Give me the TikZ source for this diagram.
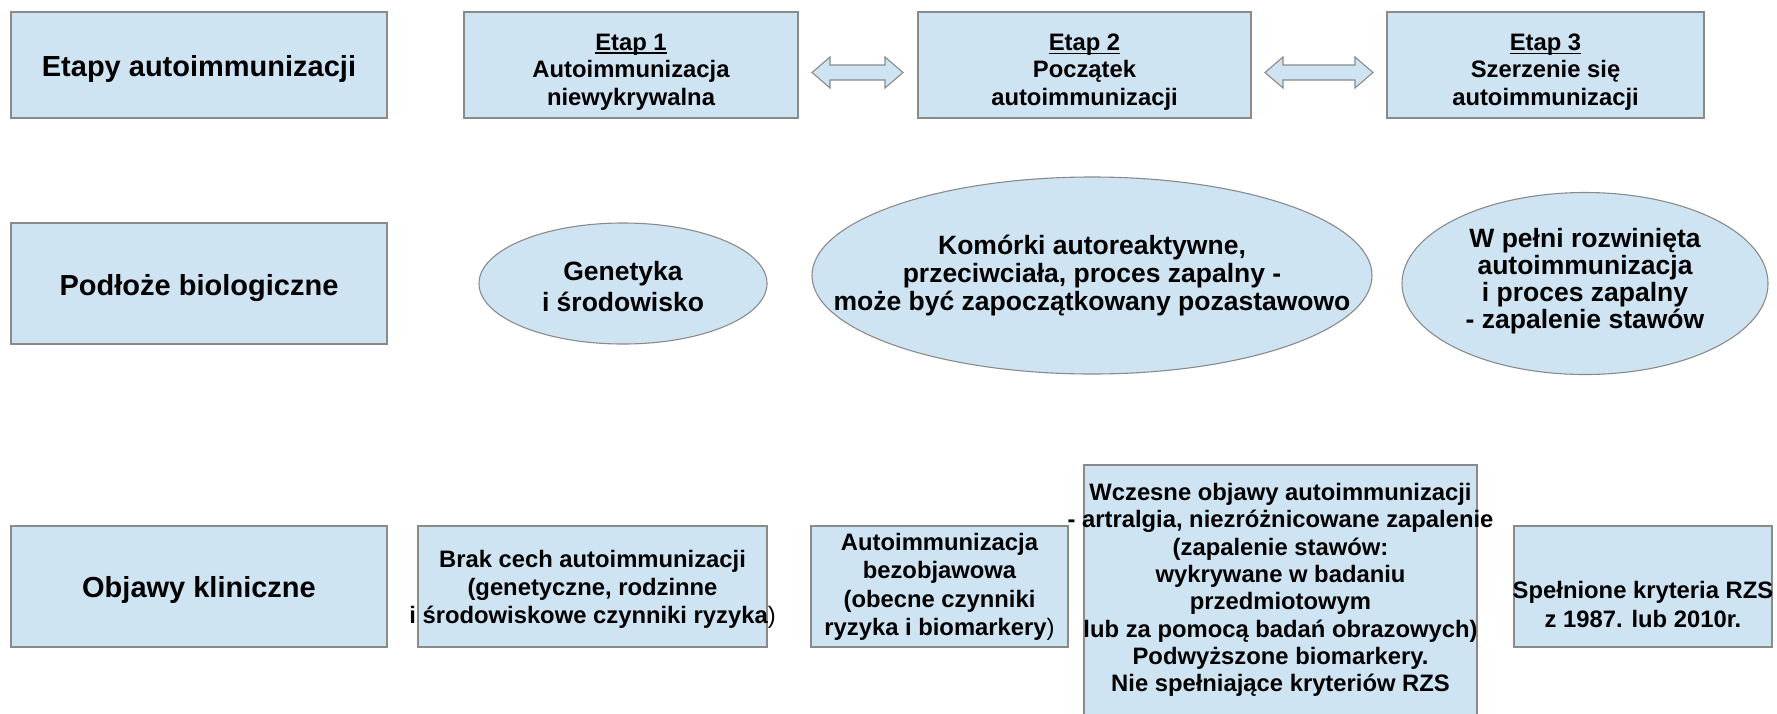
\documentclass[tikz,border=0pt]{standalone}
\usepackage{fontspec}
\setmainfont{Liberation Sans}
\usetikzlibrary{calc,shapes.geometric}
\definecolor{boxfill}{HTML}{CFE4F3}
\definecolor{boxline}{HTML}{8A8A8A}
\newcommand\fsz[2]{\fontsize{#1}{#2}\selectfont}
\newcommand\ulin[1]{\setbox0\hbox{#1}\rlap{\rule[-3.6pt]{\wd0}{1.4pt}}\box0}
\begin{document}
\begin{tikzpicture}[x=1pt,y=-1pt,
  box/.style={draw=boxline, fill=boxfill, line width=1.1pt, rectangle, inner sep=0pt, outer sep=0pt},
  oval/.style={draw=boxline, fill=boxfill, line width=1.1pt, ellipse, inner sep=0pt, outer sep=0pt},
  txt/.style={align=center, inner sep=0pt, font=\bfseries\fsz{23.8}{#1}},
  txt/.default=27.5,
  title/.style={align=center, inner sep=0pt, font=\bfseries\fsz{29}{33}},
  ovtxt/.style={align=center, inner sep=0pt, font=\bfseries\fsz{26.5}{#1}},
  dblarrow/.style={draw=boxline, fill=boxfill, line width=1.1pt, line join=miter}]
\useasboundingbox (0,0) rectangle (1777,713);

% ---------- row 1 ----------
\node[box, minimum width=376pt, minimum height=106pt] (etapy) at (199,65) {};
\node[title] (etapyT) at (199,69) {Etapy autoimmunizacji};

\node[box, minimum width=334pt, minimum height=106pt] (etap1) at (631,65) {};
\node[txt] (etap1T) at (631,72) {\ulin{Etap 1}\\Autoimmunizacja\\niewykrywalna};

\node[box, minimum width=333pt, minimum height=106pt] (etap2) at (1084.5,65) {};
\node[txt] (etap2T) at (1084.5,72) {\ulin{Etap 2}\\Początek\\autoimmunizacji};

\node[box, minimum width=317pt, minimum height=106pt] (etap3) at (1545.5,65) {};
\node[txt] (etap3T) at (1545.5,72) {\ulin{Etap 3}\\Szerzenie się\\autoimmunizacji};

\coordinate (a1l) at ($(etap1.east)+(14,7.5)$);
\coordinate (a1r) at ($(etap2.west)+(-15,7.5)$);
\draw[dblarrow] (a1l) -- ++(18,-15.5) -- ++(0,8) -- ($(a1r)+(-18,-7.5)$) -- ++(0,-8) -- (a1r)
  -- ++(-18,15.5) -- ++(0,-8) -- ($(a1l)+(18,7.5)$) -- ++(0,8) -- cycle;

\coordinate (a2l) at ($(etap2.east)+(14,7.5)$);
\coordinate (a2r) at ($(etap3.west)+(-14,7.5)$);
\draw[dblarrow] (a2l) -- ++(18,-15.5) -- ++(0,8) -- ($(a2r)+(-18,-7.5)$) -- ++(0,-8) -- (a2r)
  -- ++(-18,15.5) -- ++(0,-8) -- ($(a2l)+(18,7.5)$) -- ++(0,8) -- cycle;

% ---------- row 2 ----------
\node[box, minimum width=376pt, minimum height=121pt] (podloze) at (199,283.5) {};
\node[title] (podlozeT) at (199,288) {Podłoże biologiczne};

\node[oval, minimum width=288pt, minimum height=121pt] (gen) at (623,283.5) {};
\node[ovtxt=31] (genT) at (623,287) {Genetyka\\i środowisko};

\node[oval, minimum width=560pt, minimum height=197pt] (kom) at (1092,275.5) {};
\node[ovtxt=28] (komT) at (1092,276) {Komórki autoreaktywne,\\przeciwciała, proces zapalny -\\może być zapoczątkowany pozastawowo};

\node[oval, minimum width=366pt, minimum height=182pt] (pel) at (1585,283.5) {};
\node[ovtxt=27] (pelT) at (1585,281) {W pełni rozwinięta\\autoimmunizacja\\i proces zapalny\\- zapalenie stawów};

% ---------- row 3 ----------
\node[box, minimum width=376pt, minimum height=121pt] (objawy) at (199,586.5) {};
\node[title] (objawyT) at (199,590) {Objawy kliniczne};

\node[box, minimum width=349pt, minimum height=121pt] (brak) at (592.5,586.5) {};
\node[txt=28] (brakT) at (592.5,589) {Brak cech autoimmunizacji\\(genetyczne, rodzinne\\i środowiskowe czynniki ryzyka{\mdseries)}};

\node[box, minimum width=257pt, minimum height=121pt] (bez) at (939.5,586.5) {};
\node[txt=28.5] (bezT) at (939.5,587) {Autoimmunizacja\\bezobjawowa\\(obecne czynniki\\ryzyka i biomarkery{\mdseries)}};

\node[box, minimum width=393pt, minimum height=252pt] (wcz) at (1280.5,591) {};
\node[txt=27.3] (wczT) at (1280.5,590) {Wczesne objawy autoimmunizacji\\- artralgia, niezróżnicowane zapalenie\\(zapalenie stawów:\\wykrywane w badaniu\\przedmiotowym\\lub za pomocą badań obrazowych)\\Podwyższone biomarkery.\\Nie spełniające kryteriów RZS};

\node[box, minimum width=258pt, minimum height=121pt] (spel) at (1643,586.5) {};
\node[txt=29] (spelT) at (1643,604) {Spełnione kryteria RZS\\z 1987. lub 2010r.};
\end{tikzpicture}
\end{document}
